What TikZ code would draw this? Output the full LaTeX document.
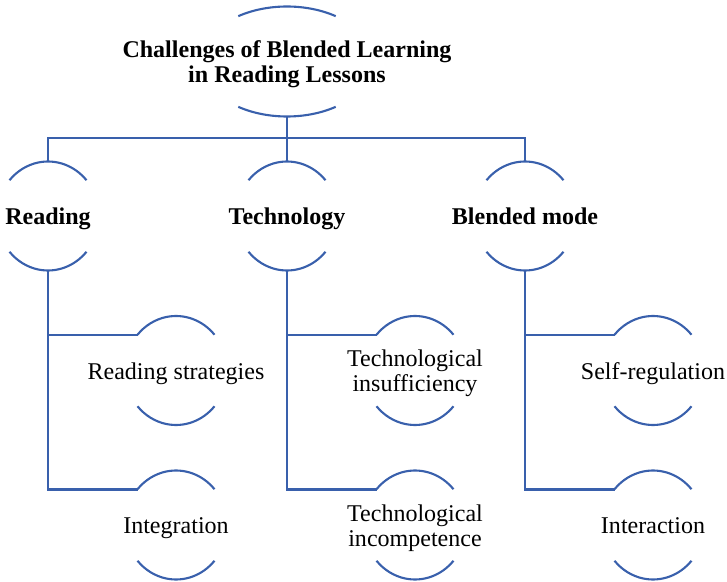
\documentclass[tikz,border=0pt]{standalone}
\usepackage{fontspec}
\setmainfont{Liberation Serif}
\definecolor{linkblue}{RGB}{57,96,172}
% same box for every line, so the text sits alike in all nodes
\newcommand{\nodestrut}{\rule[-5pt]{0pt}{25pt}}
\newcommand{\nodefont}{\fontsize{20.5}{21}\selectfont\lineskiplimit=-100pt\relax}
\tikzset{link/.style={draw=linkblue,line width=1.8pt},
 box/.style={align=center,inner sep=0pt,minimum height=3.27cm,font={\nodefont},
  execute at begin node=\nodestrut,execute at end node=\nodestrut},
 head/.style={box,font={\nodefont\bfseries}}}
% two bracket arcs (top and bottom) of an ellipse round a node
\newcommand{\brackets}[4]{%
 \draw[link]([shift={(#4:#2 and #3)}]#1.center) arc[start angle=#4,end angle=180-#4,x radius=#2,y radius=#3];
 \draw[link]([shift={(-#4:#2 and #3)}]#1.center) arc[start angle=-#4,end angle=-180+#4,x radius=#2,y radius=#3];}

\begin{document}
\begin{tikzpicture}[x=0.03cm,y=0.03cm]
\useasboundingbox (0,0) rectangle (727,581);
\node[head](top) at (287,519.5){Challenges of Blended Learning\nodestrut\\in Reading Lessons\nodestrut};
\node[head](read) at (48,365){Reading};
\node[head](tech) at (287,365){Technology};
\node[head](blend) at (525,365){Blended mode};
\node[box](rstrat) at (176,210.5){Reading strategies};
\node[box](integ) at (176,56){Integration};
\node[box](tinsuf) at (415,210.5){Technological\nodestrut\\insufficiency\nodestrut};
\node[box](tincomp) at (415,56){Technological\nodestrut\\incompetence\nodestrut};
\node[box](selfreg) at (653,210.5){Self-regulation};
\node[box](inter) at (653,56){Interaction};
\brackets{top}{86}{55}{55.5}
\foreach \n in {read,tech,blend,rstrat,integ,tinsuf,tincomp,selfreg,inter}{\brackets{\n}{51}{54.5}{41}}
% bus under the title
\coordinate(bus) at (287,443);
\draw[link](top.south)--(bus);
\draw[link](read.north)|-(bus)-|(blend.north);\draw[link](bus)--(tech.north);
% branches down to the children
\draw[link](read.south)|-([shift={(-38.5,35.5)}]rstrat.center);\draw[link](read.south)|-([shift={(-38.5,35.5)}]integ.center);
\draw[link](tech.south)|-([shift={(-38.5,35.5)}]tinsuf.center);\draw[link](tech.south)|-([shift={(-38.5,35.5)}]tincomp.center);
\draw[link](blend.south)|-([shift={(-38.5,35.5)}]selfreg.center);\draw[link](blend.south)|-([shift={(-38.5,35.5)}]inter.center);
\end{tikzpicture}
\end{document}
